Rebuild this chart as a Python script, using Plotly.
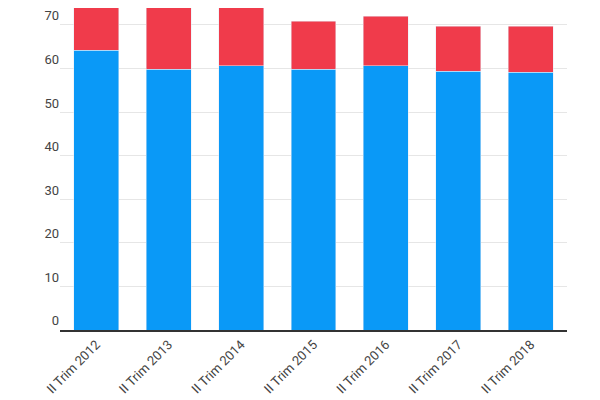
import plotly.graph_objects as go

categories = ["II Trim 2012", "II Trim 2013", "II Trim 2014", "II Trim 2015",
              "II Trim 2016", "II Trim 2017", "II Trim 2018"]
blue_values = [64.2, 59.9, 60.6, 59.9, 60.6, 59.4, 59.2]
red_values = [12.0, 17.0, 15.5, 11.0, 11.4, 10.3, 10.5]

fig = go.Figure()
fig.add_trace(go.Bar(x=categories, y=blue_values, marker_color="#0a99f7", width=0.62))
fig.add_trace(go.Bar(x=categories, y=red_values, marker_color="#f03b4b", width=0.62))

fig.update_layout(
    barmode="stack",
    width=600, height=400,
    margin=dict(l=52, r=41, t=0, b=78, autoexpand=False),
    plot_bgcolor="white", paper_bgcolor="white",
    showlegend=False,
    font=dict(family="Roboto", size=13, color="#444"),
)
fig.update_yaxes(range=[0, 73.9], dtick=10, gridcolor="#e6e6e6",
                 zeroline=False, ticks="", ticklabelposition="outside top",
                 automargin=False, tickfont=dict(size=13, color="#444"))
fig.update_xaxes(tickangle=-45, showline=True, linecolor="#333", linewidth=2,
                 automargin=False, tickfont=dict(size=13, color="#444"))

fig.write_html("out.html")
